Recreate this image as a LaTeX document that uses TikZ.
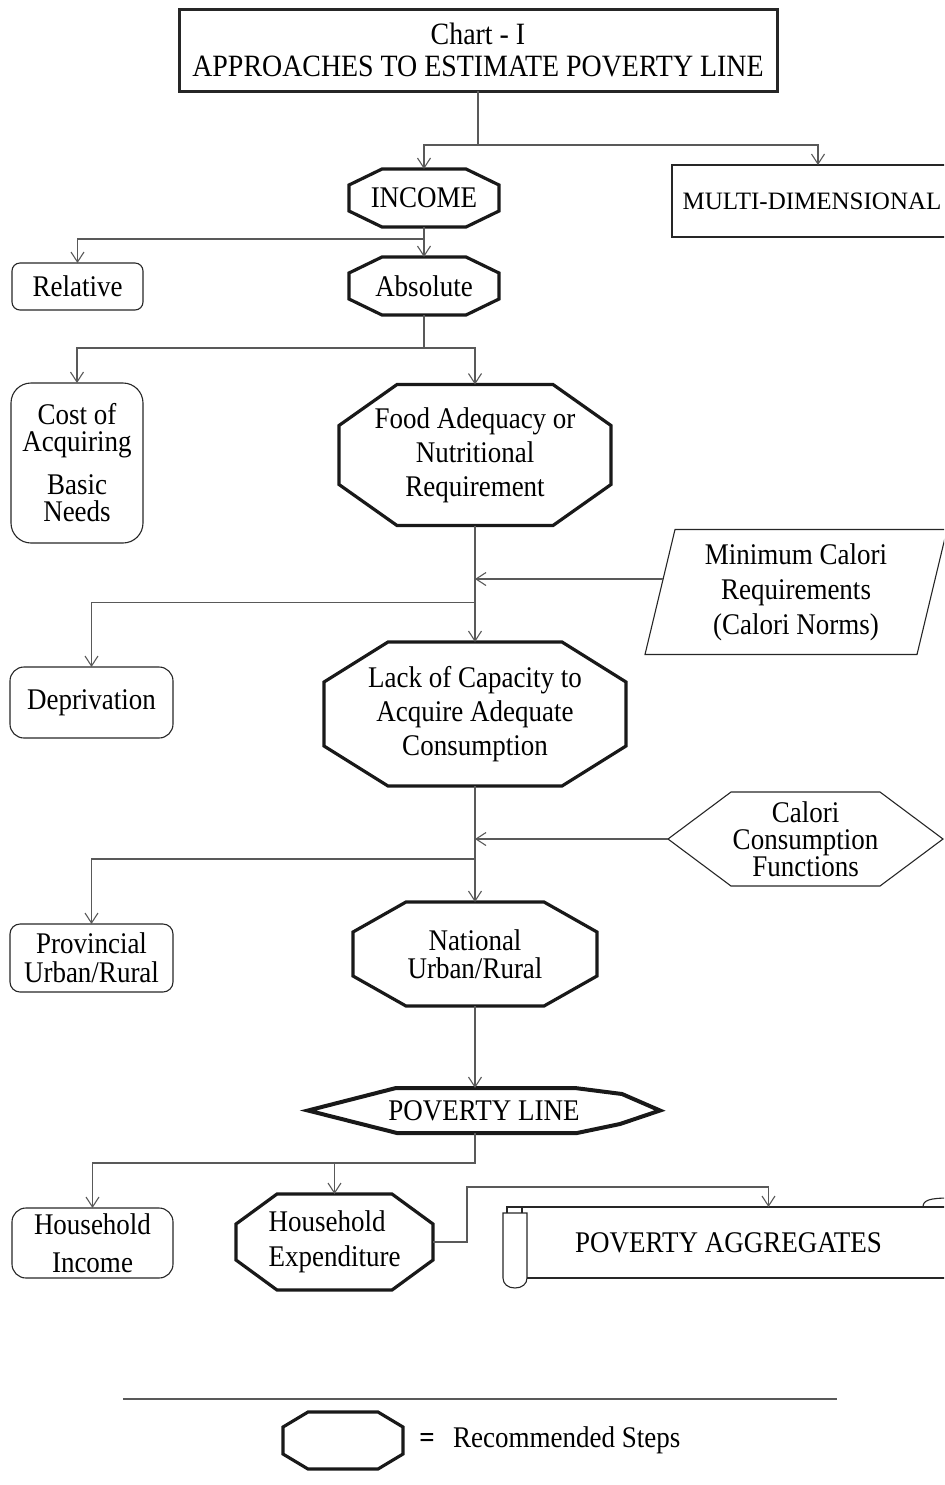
\documentclass[tikz,border=0pt]{standalone}
\usepackage{fontspec}
\setmainfont{Liberation Serif}[FakeStretch=0.9]
\newfontfamily\widefont{Liberation Serif}
\usetikzlibrary{arrows.meta, calc}

% octagon round a named node: node, chamfer in x, chamfer in y
\newcommand{\octo}[3]{%
  \draw[stepline] ($(#1.north west)+(#2,0)$) -- ($(#1.north east)+(-#2,0)$)
    -- ($(#1.north east)+(0,#3)$) -- ($(#1.south east)+(0,-#3)$)
    -- ($(#1.south east)+(-#2,0)$) -- ($(#1.south west)+(#2,0)$)
    -- ($(#1.south west)+(0,-#3)$) -- ($(#1.north west)+(0,#3)$) -- cycle;}

\begin{document}
\begin{tikzpicture}[x=0.5pt, y=-0.5pt, >={Straight Barb[length=5pt,width=6.5pt]},
  font=\fontsize{15}{17}\selectfont,
  conn/.style={->, draw=black!65, line width=0.55pt},
  link/.style={draw=black!65, line width=0.55pt},
  txt/.style={inner sep=0pt, outer sep=0pt, align=center},
  box/.style={txt, draw=black!85, line width=0.55pt},
  outline/.style={draw=black!85, line width=0.55pt},
  stepline/.style={draw=black!90, line width=1.6pt, line join=miter}]
  \useasboundingbox (0,0) rectangle (944,1485);
  \clip (0,0) rectangle (944,1485);

  \node[box, line width=1.5pt, minimum width=299pt, minimum height=41pt,
        font=\fontsize{15.5}{16}\selectfont] (title) at (478,50)
        {Chart - I\\APPROACHES TO ESTIMATE POVERTY LINE};
  \node[txt, minimum width=75pt, minimum height=29pt] (income) at (424,198) {INCOME};
  \node[box, minimum width=140pt, minimum height=36pt,
        font=\widefont\fontsize{12.5}{15}\selectfont] (multi) at (812,201) {MULTI-DIMENSIONAL};
  \node[box, rounded corners=4pt, minimum width=65.5pt, minimum height=23.5pt] (relative) at (77.5,286.5) {Relative};
  \node[txt, minimum width=75pt, minimum height=29pt] (absolute) at (424,286) {Absolute};
  \node[box, rounded corners=10pt, minimum width=66pt, minimum height=80pt,
        font=\fontsize{15}{13.5}\selectfont] (cost) at (77,463) {Cost of\\Acquiring\\[8pt]Basic\\Needs};
  \node[txt, minimum width=136pt, minimum height=70.5pt] (food) at (475,455)
        {Food Adequacy or\\Nutritional\\Requirement};
  \node[txt, minimum width=151pt, minimum height=62.5pt,
        font=\fontsize{15}{17.5}\selectfont] (mincal) at (796,592)
        {Minimum Calori\\Requirements\\(Calori Norms)};
  \node[box, rounded corners=7pt, minimum width=81.5pt, minimum height=35.5pt] (depriv) at (91.5,702.5) {Deprivation};
  \node[txt, minimum width=151pt, minimum height=72pt] (lack) at (475,714)
        {Lack of Capacity to\\Acquire Adequate\\Consumption};
  \node[txt, minimum width=137.5pt, minimum height=47pt,
        font=\fontsize{15}{13.5}\selectfont] (calfun) at (805.5,839) {Calori\\Consumption\\Functions};
  \node[box, rounded corners=5pt, minimum width=81.5pt, minimum height=34pt,
        font=\fontsize{15}{14.5}\selectfont] (prov) at (91.5,958) {Provincial\\Urban/Rural};
  \node[txt, minimum width=122pt, minimum height=52pt,
        font=\fontsize{15}{14}\selectfont] (national) at (475,954) {National\\Urban/Rural};
  \node[txt, minimum width=176pt, minimum height=22.5pt] (pline) at (484,1110.5) {POVERTY LINE};
  \node[box, rounded corners=7pt, minimum width=80.5pt, minimum height=35pt,
        font=\fontsize{15}{19}\selectfont] (hhinc) at (92.5,1243) {Household\\Income};
  \node[txt, align=left, minimum width=98.5pt, minimum height=48pt,
        font=\fontsize{15}{17.5}\selectfont] (hhexp) at (334.5,1242) {Household\\Expenditure};
  \node[txt, minimum width=201.5pt, minimum height=35.5pt] (aggr) at (728.5,1242.5) {POVERTY AGGREGATES};

  % recommended steps
  \octo{income}{33}{16}
  \octo{absolute}{33}{16}
  \octo{food}{58}{41}
  \octo{lack}{64}{40}
  \octo{national}{53}{30}
  \octo{hhexp}{41}{30}
  \draw[stepline, line width=2pt] (pline.west) -- ($(pline.north west)+(88,0)$)
    -- ($(pline.north east)+(-85,0)$) -- ($(pline.north east)+(-38,6)$) -- (pline.east)
    -- ($(pline.south east)+(-40,-9)$) -- ($(pline.south east)+(-83,0)$)
    -- ($(pline.south west)+(89,0)$) -- cycle;

  % other shapes
  \draw[outline] ($(mincal.north west)+(30,0)$) -- (mincal.north east)
    -- ($(mincal.south east)+(-30,0)$) -- (mincal.south west) -- cycle;
  \draw[outline] (calfun.west) -- ($(calfun.north west)+(63,0)$) -- ($(calfun.north east)+(-63,0)$)
    -- (calfun.east) -- ($(calfun.south east)+(-63,0)$) -- ($(calfun.south west)+(63,0)$) -- cycle;
  \draw[outline] (507,1207) -- (960,1207);
  \draw[outline] (527,1278) -- (960,1278);
  \draw[outline] (527,1278) -- (527,1213) -- (503,1213) -- (503,1278)
    .. controls (503,1284) and (508,1288) .. (515,1288)
    .. controls (522,1288) and (527,1284) .. (527,1278);
  \draw[outline] (507,1213) -- (507,1207) -- (522,1207) -- (522,1213);
  \draw[outline] (923,1207) .. controls (923,1200) and (930,1198) .. (950,1198);

  % connectors
  \draw[link] (title.south) -- ++(0,54) coordinate (j0);
  \draw[conn] (j0) -| (income.north);
  \draw[conn] (j0) -| ($(multi.north)+(6,0)$);
  \draw[conn] (income.south) -- (absolute.north);
  \draw[conn] ($(income.south)+(0,12)$) -| (relative.north);
  \draw[link] (absolute.south) -- ++(0,33) coordinate (j1);
  \draw[conn] (j1) -| (cost.north);
  \draw[conn] (j1) -| (food.north);
  \draw[conn] (food.south) -- (lack.north);
  \coordinate (m1) at ($(mincal.west)+(18,-13)$);
  \draw[conn] (m1) -- (m1 -| food.south);
  \draw[conn] ($(food.south)+(0,77)$) -| (depriv.north);
  \draw[conn] (lack.south) -- (national.north);
  \draw[conn] (calfun.west) -- (calfun.west -| lack.south);
  \draw[conn] ($(lack.south)+(0,73)$) -| (prov.north);
  \draw[conn] (national.south) -- (national.south |- pline.north);
  \coordinate (j2) at ($(national.south |- pline.south)+(0,30)$);
  \draw[conn] (national.south |- pline.south) -- (j2) -| (hhinc.north);
  \draw[conn] (j2 -| hhexp.north) -- (hhexp.north);
  \draw[conn] (hhexp.east) -- ++(34,0) |- ($(aggr.north)+(40,-20)$) -- ($(aggr.north)+(40,0)$);

  % legend
  \draw[link] (123,1399) -- (837,1399);
  \node[txt, minimum width=60pt, minimum height=28.5pt] (lgbox) at (343,1440.5) {};
  \octo{lgbox}{25}{15}
  \node[font=\bfseries\fontsize{15}{17}\selectfont] (lgeq) at (427,1440) {=};
  \node[anchor=west] (lgtxt) at (446,1440) {Recommended Steps};
\end{tikzpicture}
\end{document}
